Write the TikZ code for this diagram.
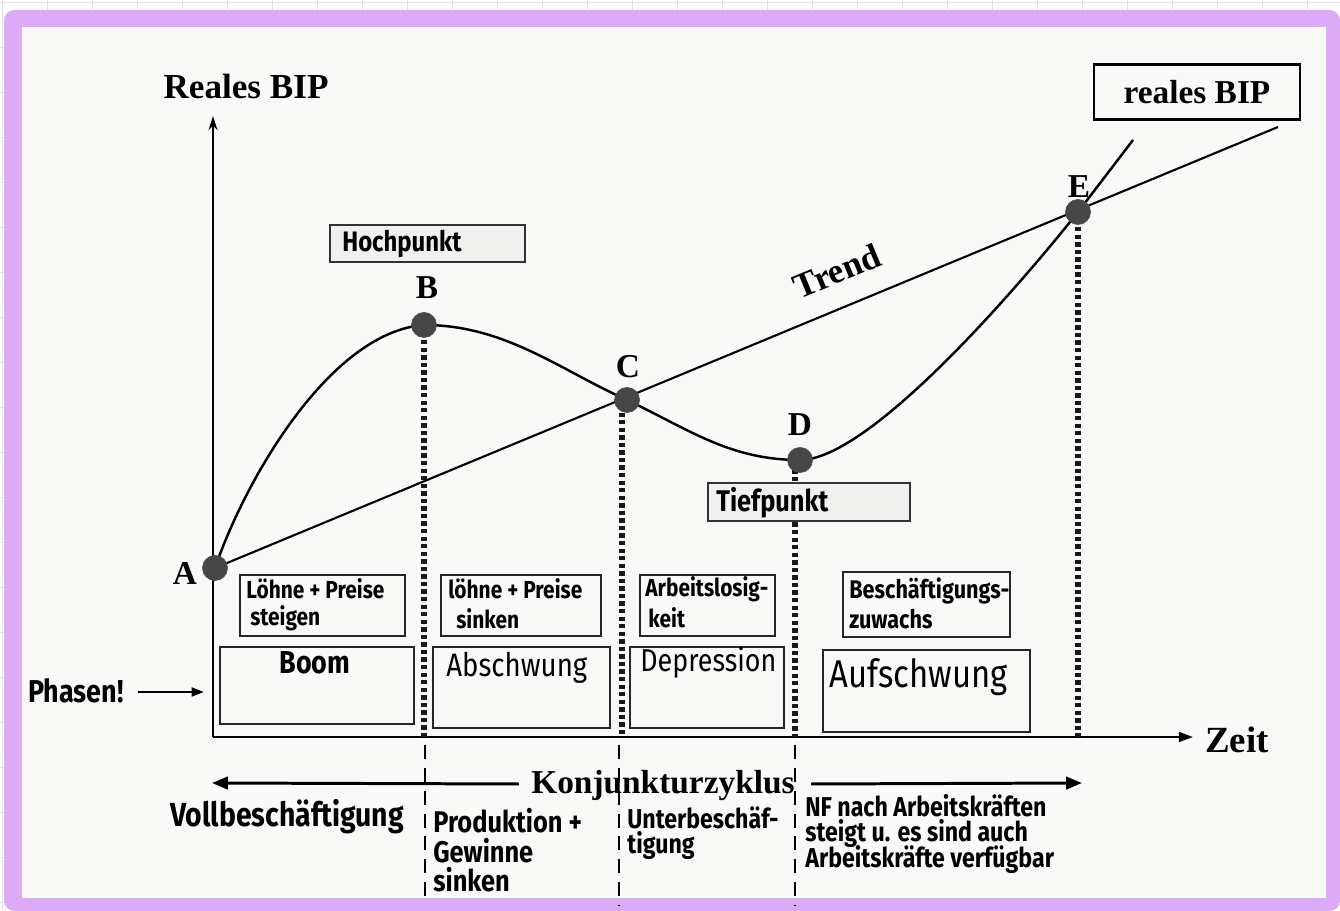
\documentclass[tikz,border=0pt]{standalone}
\usepackage{fontspec}
\newfontfamily\tnr{Liberation Serif}
\newfontfamily\hand{Fira Sans}[FakeStretch=0.85]
\usetikzlibrary{arrows.meta}
\definecolor{lila}{RGB}{221,170,248}
\definecolor{paper}{RGB}{249,249,247}
\definecolor{dotc}{RGB}{70,70,70}
\definecolor{boxfill}{RGB}{240,240,238}
\tikzset{
  serifb/.style={font=\tnr\bfseries\fontsize{19}{22}\selectfont, inner sep=0pt},
  handS/.style={font=\hand\bfseries\fontsize{14}{16}\selectfont, inner sep=0pt, anchor=west},
  handM/.style={font=\hand\fontsize{18}{20}\selectfont, inner sep=0pt, anchor=west},
  handB/.style={font=\hand\bfseries\fontsize{17}{19}\selectfont, inner sep=0pt, anchor=west},
  axisline/.style={line width=1.4pt, black},
  curveline/.style={line width=1.4pt, black},
  trendline/.style={line width=1.2pt, black},
  dotline/.style={line width=3.6pt, dash pattern=on 2.5pt off 1.8pt, black!90},
  thindash/.style={line width=0.7pt, dash pattern=on 8pt off 5pt, black},
  phasebox/.style={draw=black!85, line width=0.8pt, fill=paper, inner sep=0pt},
  pnt/.style={circle, fill=dotc, draw=black!70, line width=0.4pt, minimum size=0.5cm, inner sep=0pt},
  bigarrow/.style={line width=1.7pt, -{Triangle[length=9pt,width=7pt]}},
}
\begin{document}
\begin{tikzpicture}[x=0.02cm,y=-0.02cm]
\useasboundingbox (0,0) rectangle (1340,911);
% background sheet
\fill[white] (0,0) rectangle (1340,911);
\foreach \i in {2,47,...,1340} \draw[gray!22, line width=0.4pt] (\i,0) -- (\i,911);
\foreach \j in {2,47,...,911} \draw[gray!22, line width=0.4pt] (0,\j) -- (1340,\j);
\fill[lila, rounded corners=6pt] (4,10) rectangle (1340,911);
\fill[paper] (22,27) rectangle (1326,898);

% coordinates
\coordinate (O) at (213,737);
\coordinate (ytop) at (213,116);
\coordinate (xend) at (1193,737);
\coordinate (pA) at (215,568);
\coordinate (pB) at (424,325);
\coordinate (pC) at (627,400);
\coordinate (pD) at (800,460);
\coordinate (pE) at (1078,212);
\coordinate (trendEnd) at (1278,127);
\coordinate (curveEnd) at (1133,140);

% axes
\draw[axisline, -{Stealth[length=8pt,width=5pt]}] (O) -- (ytop);
\draw[axisline, -{Triangle[length=8pt,width=5.5pt]}] (O) -- (xend);
\node[serifb, font=\tnr\bfseries\fontsize{20}{22}\selectfont] (yl) at (246,86) {Reales BIP};
\node[serifb, font=\tnr\bfseries\fontsize{21}{22}\selectfont] (xl) at (1237,740) {Zeit};

% dotted verticals
\draw[dotline] (pB) -- (pB |- O);
\draw[dotline] (622,405) -- (622,737);
\draw[dotline] (795,462) -- (795,737);
\draw[dotline] (pE) -- (pE |- O);

% trend and curve
\draw[trendline] (pA) -- (trendEnd);
\draw[curveline] (pA) .. controls (245,480) and (330,332) .. (pB)
  .. controls (505,325) and (560,370) .. (pC)
  .. controls (690,430) and (730,460) .. (pD)
  .. controls (870,460) and (1020,285) .. (pE) -- (curveEnd);

% points
\node[pnt] (A) at (pA) {};
\node[pnt] (B) at (pB) {};
\node[pnt] (C) at (pC) {};
\node[pnt] (D) at (pD) {};
\node[pnt] (E) at (pE) {};
\node[serifb] (lA) at (185,573) {A};
\node[serifb] (lB) at (427,288) {B};
\node[serifb] (lC) at (628,367) {C};
\node[serifb] (lD) at (800,425) {D};
\node[serifb] (lE) at (1079,187) {E};
\node[serifb, font=\tnr\bfseries\fontsize{20}{22}\selectfont, rotate=22.5] (trend) at (837,271) {Trend};

% reales BIP box
\node[draw=black, line width=1.6pt, minimum width=4.12cm, minimum height=1.1cm, inner sep=0pt,
      font=\tnr\bfseries\fontsize{19}{22}\selectfont] (rb) at (1197,92) {reales BIP};

% Hoch- / Tiefpunkt boxes
\node[draw=black!80, line width=0.7pt, fill=boxfill, minimum width=3.9cm, minimum height=0.74cm, inner sep=0pt] (hp) at (427.5,243.5) {};
\node[handB, font=\hand\bfseries\fontsize{16}{18}\selectfont] (hpt) at (342,244) {Hochpunkt};
\node[draw=black!80, line width=0.7pt, fill=boxfill, minimum width=4.04cm, minimum height=0.76cm, inner sep=0pt] (tp) at (809,502) {};
\node[handB, font=\hand\bfseries\fontsize{17}{19}\selectfont] (tpt) at (716,503) {Tiefpunkt};

% phase boxes upper
\node[phasebox, minimum width=3.3cm, minimum height=1.22cm] (u1) at (322.5,605.5) {};
\node[phasebox, minimum width=3.2cm, minimum height=1.22cm] (u2) at (521,605.5) {};
\node[phasebox, minimum width=2.7cm, minimum height=1.22cm] (u3) at (707.5,605.5) {};
\node[phasebox, minimum width=3.34cm, minimum height=1.3cm] (u4) at (926.5,604.5) {};
% phase boxes lower
\node[phasebox, minimum width=3.88cm, minimum height=1.54cm] (l1) at (317,685.5) {};
\node[phasebox, minimum width=3.54cm, minimum height=1.62cm] (l2) at (521.5,687.5) {};
\node[phasebox, minimum width=3.08cm, minimum height=1.62cm] (l3) at (707,687.5) {};
\node[phasebox, minimum width=4.14cm, minimum height=1.64cm] (l4) at (926.5,691) {};

% texts in boxes
\node[handS] (t1a) at (246,589) {Löhne + Preise};
\node[handS] (t1b) at (250,618) {steigen};
\node[handS] (t2a) at (448,589) {löhne + Preise};
\node[handS] (t2b) at (456,619) {sinken};
\node[handS] (t3a) at (645,589) {Arbeitslosig-};
\node[handS] (t3b) at (648,618) {keit};
\node[handS, font=\hand\bfseries\fontsize{14.5}{16}\selectfont] (t4a) at (849,591) {Beschäftigungs-};
\node[handS, font=\hand\bfseries\fontsize{14.5}{16}\selectfont] (t4b) at (849,619) {zuwachs};
\node[handB, anchor=center, font=\hand\bfseries\fontsize{18}{20}\selectfont] (p1) at (315,663) {Boom};
\node[handM, font=\hand\fontsize{18.5}{21}\selectfont] (p2) at (446,668) {Abschwung};
\node[handM, font=\hand\fontsize{18}{21}\selectfont] (p3) at (640,663) {Depression};
\node[handM, font=\hand\fontsize{22}{25}\selectfont] (p4) at (829,677) {Aufschwung};

% Phasen! arrow
\node[handB, font=\hand\bfseries\fontsize{18}{20}\selectfont] (ph) at (28,691) {Phasen!};
\coordinate (phE) at (204,692);
\draw[line width=1.3pt, -{Triangle[length=7pt,width=5pt]}] (138,692) -- (phE);

% Konjunkturzyklus
\node[serifb] (kz) at (663,786) {Konjunkturzyklus};
\coordinate (kzl) at (212,783);
\coordinate (kzr) at (1082,783);
\draw[bigarrow] (kz.west) ++(-12,-2) -- (kzl);
\draw[bigarrow] (kz.east) ++(16,-2) -- (kzr);

% thin dashed lines below axis
\draw[thindash] (425,745) -- (425,900);
\draw[thindash] (619,745) -- (619,905);
\draw[thindash] (795,745) -- (795,905);

% bottom texts
\node[handB, font=\hand\bfseries\fontsize{19}{21}\selectfont] (b1) at (170,817) {Vollbeschäftigung};
\node[handB] (b2a) at (433,821) {Produktion +};
\node[handB] (b2b) at (433,851) {Gewinne};
\node[handB] (b2c) at (433,880) {sinken};
\node[handB, font=\hand\bfseries\fontsize{15.5}{17}\selectfont] (b3a) at (627,818) {Unterbeschäf-};
\node[handB, font=\hand\bfseries\fontsize{15.5}{17}\selectfont] (b3b) at (627,845) {tigung};
\node[handB, font=\hand\bfseries\fontsize{15.5}{17}\selectfont] (b4a) at (805,806) {NF nach Arbeitskräften};
\node[handB, font=\hand\bfseries\fontsize{15.5}{17}\selectfont] (b4b) at (805,833) {steigt u. es sind auch};
\node[handB, font=\hand\bfseries\fontsize{15.5}{17}\selectfont] (b4c) at (805,859) {Arbeitskräfte verfügbar};
\end{tikzpicture}
\end{document}
